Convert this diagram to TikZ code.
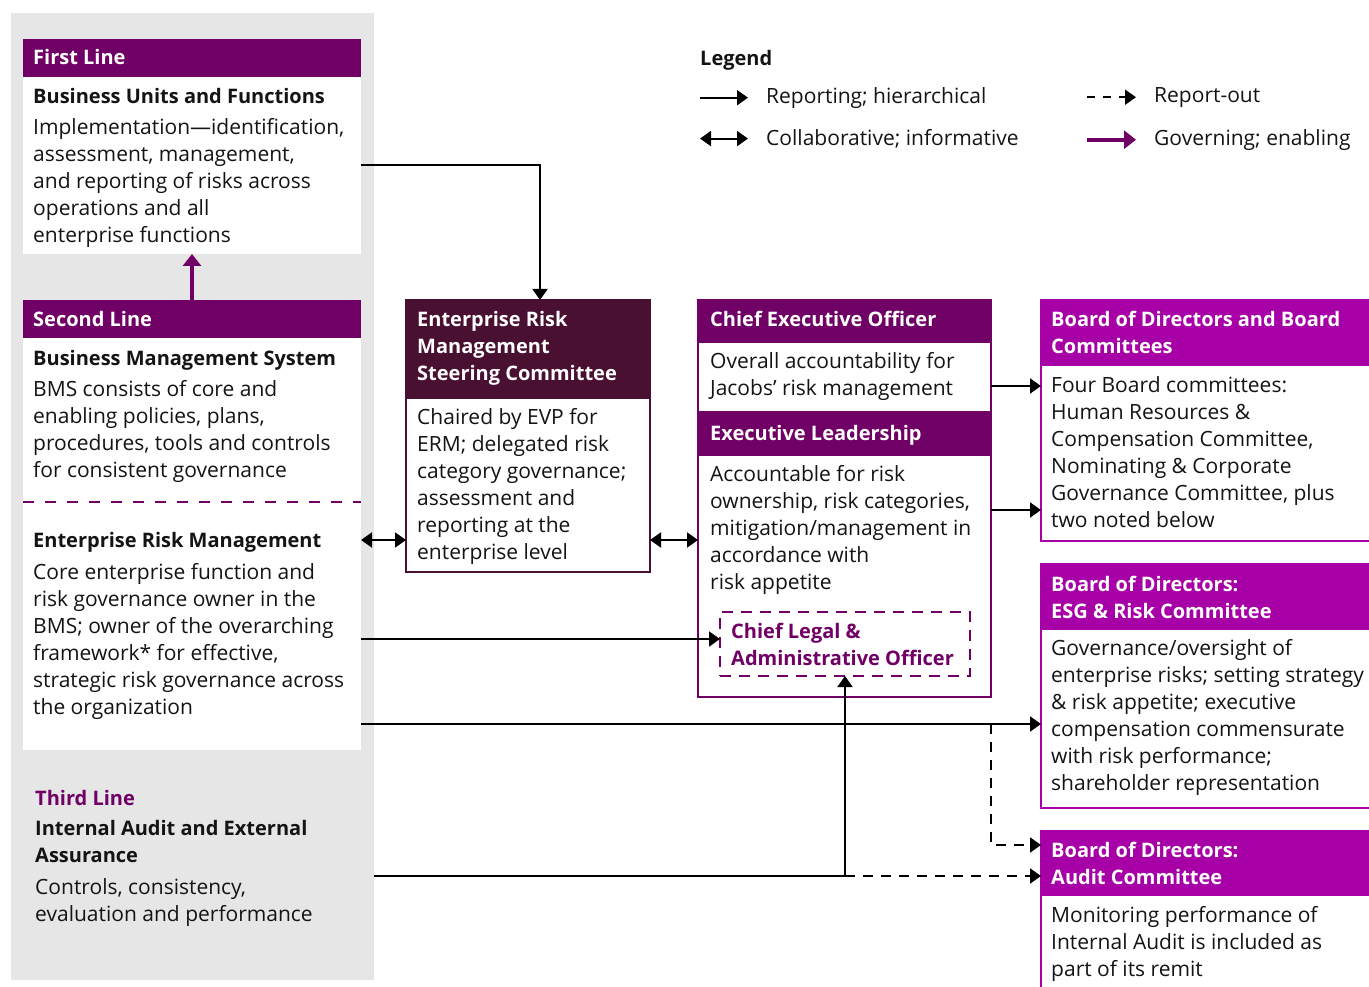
\documentclass[tikz,border=0pt]{standalone}
\usepackage{fontspec}
\setmainfont{Open Sans}
\usetikzlibrary{arrows.meta,positioning,calc}

\definecolor{linepurple}{RGB}{112,0,102}
\definecolor{boardpink}{RGB}{166,0,166}
\definecolor{steermaroon}{RGB}{74,16,50}
\definecolor{panelgray}{RGB}{230,230,230}
\definecolor{inkblack}{RGB}{20,20,20}

\newcommand{\bodysize}{\fontsize{21}{27}\selectfont}
\newcommand{\headsize}{\fontsize{20}{27}\selectfont\bfseries}
\newcommand{\ttl}[1]{{\headsize #1}}

\tikzset{
  blk/.style={anchor=north west, inner sep=0pt, outer sep=0pt},
  headbox/.style={blk, fill=linepurple},
  bodybox/.style={blk, fill=white},
  txt/.style={anchor=north west, inner sep=0pt, yshift=-3pt, align=left, font=\bodysize, text=inkblack},
  headtxt/.style={txt, text=white, font=\headsize},
  report/.style={line width=2pt, -{Triangle[length=11pt,width=15pt]}},
  collab/.style={line width=2pt, {Triangle[length=11pt,width=15pt]}-{Triangle[length=11pt,width=15pt]}},
  reportout/.style={report, dash pattern=on 10pt off 8pt},
  govern/.style={line width=4pt, linepurple, -{Triangle[length=12pt,width=18pt]}},
}

\begin{document}
\begin{tikzpicture}[x=1pt,y=-1pt]
\clip (0,0) rectangle (1369,987);

% the three lines, on the grey panel
\node[blk, fill=panelgray, minimum width=363, minimum height=967] (panel) at (11,13) {};
\node[headbox, minimum width=338, minimum height=38] (fl-head) at (23,39) {};
\node[bodybox, minimum width=338, minimum height=177] (fl-body) at (23,77) {};
\node[headbox, minimum width=338, minimum height=38] (sl-head) at (23,300) {};
\node[bodybox, minimum width=338, minimum height=164] (bms) at (23,338) {};
\node[bodybox, minimum width=338, minimum height=248] (erm) at (23,502) {};
\draw[linepurple, line width=2pt, dash pattern=on 11pt off 11pt] (bms.south west) -- (bms.south east);

\node[headtxt] (fl-title) at ([shift={(10,7)}]fl-head.north west) {First Line};
\node[txt] (fl-text) at ([shift={(10,8)}]fl-body.north west)
  {\ttl{Business Units and Functions}\\[4pt]
   Implementation—identification,\\ assessment, management,\\
   and reporting of risks across\\ operations and all\\ enterprise functions};
\node[headtxt] (sl-title) at ([shift={(10,8)}]sl-head.north west) {Second Line};
\node[txt] (bms-text) at ([shift={(10,9)}]bms.north west)
  {\ttl{Business Management System}\\[4pt]
   BMS consists of core and\\ enabling policies, plans,\\
   procedures, tools and controls\\ for consistent governance};
\node[txt] (erm-text) at ([shift={(10,27)}]erm.north west)
  {\ttl{Enterprise Risk Management}\\[5pt]
   Core enterprise function and\\ risk governance owner in the\\
   BMS; owner of the overarching\\ framework* for effective,\\
   strategic risk governance across\\ the organization};
\node[txt] (tl-text) at ([shift={(12,37)}]erm.south west)
  {\ttl{\color{linepurple}Third Line}\\[3pt]
   \ttl{Internal Audit and External}\\ \ttl{Assurance}\\[5pt]
   Controls, consistency,\\ evaluation and performance};

% steering committee
\node[blk, fill=steermaroon, draw=steermaroon, line width=1.5pt,
      minimum width=244, minimum height=98] (ersc-head) at (406,300) {};
\node[bodybox, draw=steermaroon, line width=1.5pt,
      minimum width=244, minimum height=174] (ersc-body) at (406,398) {};
\node[headtxt] (ersc-title) at ([shift={(11,8)}]ersc-head.north west)
  {Enterprise Risk\\ Management\\ Steering Committee};
\node[txt] (ersc-text) at ([shift={(11,7)}]ersc-body.north west)
  {Chaired by EVP for\\ ERM; delegated risk\\ category governance;\\
   assessment and\\ reporting at the\\ enterprise level};

% CEO and executive leadership
\node[headbox, draw=linepurple, line width=2pt, minimum width=293, minimum height=42] (ceo-head) at (698,300) {};
\node[bodybox, draw=linepurple, line width=2pt, minimum width=293, minimum height=70] (ceo-body) at (698,342) {};
\node[headbox, draw=linepurple, line width=2pt, minimum width=293, minimum height=43] (exec-head) at (698,412) {};
\node[bodybox, draw=linepurple, line width=2pt, minimum width=293, minimum height=242] (exec-body) at (698,455) {};
\node[blk, draw=linepurple, line width=2pt, dash pattern=on 11pt off 8pt,
      minimum width=250, minimum height=64] (clao) at (720,612) {};
\node[headtxt] (ceo-title) at ([shift={(12,8)}]ceo-head.north west) {Chief Executive Officer};
\node[txt] (ceo-text) at ([shift={(12,7)}]ceo-body.north west)
  {Overall accountability for\\ Jacobs’ risk management};
\node[headtxt] (exec-title) at ([shift={(12,10)}]exec-head.north west) {Executive Leadership};
\node[txt] (exec-text) at ([shift={(12,7)}]exec-body.north west)
  {Accountable for risk\\ ownership, risk categories,\\ mitigation/management in\\
   accordance with\\ risk appetite};
\node[headtxt, text=linepurple] (clao-text) at ([shift={(11,8)}]clao.north west)
  {Chief Legal \&\\ Administrative Officer};

% board of directors
\tikzset{boardhead/.style={blk, fill=boardpink, draw=boardpink, line width=2pt, minimum width=331},
         boardbody/.style={bodybox, draw=boardpink, line width=2pt, minimum width=331}}
\node[boardhead, minimum height=65] (bod-head) at (1041,300) {};
\node[boardbody, minimum height=176] (bod-body) at (1041,365) {};
\node[boardhead, minimum height=65] (esg-head) at (1041,564) {};
\node[boardbody, minimum height=179] (esg-body) at (1041,629) {};
\node[boardhead, minimum height=64] (audit-head) at (1041,831) {};
\node[boardbody, minimum height=100] (audit-body) at (1041,895) {};
\node[headtxt] (bod-title) at ([shift={(10,8)}]bod-head.north west)
  {Board of Directors and Board\\ Committees};
\node[txt] (bod-text) at ([shift={(10,8)}]bod-body.north west)
  {Four Board committees:\\ Human Resources \&\\ Compensation Committee,\\
   Nominating \& Corporate\\ Governance Committee, plus\\ two noted below};
\node[headtxt] (esg-title) at ([shift={(10,9)}]esg-head.north west)
  {Board of Directors:\\ ESG \& Risk Committee};
\node[txt] (esg-text) at ([shift={(10,7)}]esg-body.north west)
  {Governance/oversight of\\ enterprise risks; setting strategy\\ \& risk appetite; executive\\
   compensation commensurate\\ with risk performance;\\ shareholder representation};
\node[headtxt] (audit-title) at ([shift={(10,8)}]audit-head.north west)
  {Board of Directors:\\ Audit Committee};
\node[txt] (audit-text) at ([shift={(10,8)}]audit-body.north west)
  {Monitoring performance of\\ Internal Audit is included as\\ part of its remit};

% legend
\node[txt, font=\headsize] (legend) at (700,47) {Legend};
\node[txt] (lg-rep) at (766,84) {Reporting; hierarchical};
\node[txt] (lg-col) at (766,126) {Collaborative; informative};
\node[txt] (lg-out) at (1154,84) {Report-out};
\node[txt] (lg-gov) at (1154,126) {Governing; enabling};
\draw[report] ([xshift=-66]lg-rep.west) -- ([xshift=-18]lg-rep.west);
\draw[collab] ([xshift=-66]lg-col.west) -- ([xshift=-18]lg-col.west);
\draw[reportout, dash pattern=on 8pt off 8pt] ([xshift=-67]lg-out.west) -- ([xshift=-18]lg-out.west);
\draw[govern] ([xshift=-67]lg-gov.west) -- ([xshift=-18]lg-gov.west);

% connectors
\draw[govern] (sl-head.north) -- (fl-body.south);
\draw[report] (fl-body.east) -| ([xshift=12]ersc-head.north);
\draw[collab] ([yshift=86]erm.east) -- ([yshift=86]erm.east -| ersc-body.west);
\draw[collab] ([yshift=-55]ersc-body.east) -- ([yshift=-55]ersc-body.east -| exec-body.west);
\draw[report] ([yshift=-13]erm.east) -- ([yshift=-13]erm.east -| clao.west);
\draw[report] ([yshift=-9]ceo-body.east) -- ([yshift=-9]ceo-body.east -| bod-body.west);
\draw[report] ([yshift=66]exec-body.east) -- ([yshift=66]exec-body.east -| bod-body.west);
\coordinate (erm-out) at ([yshift=-98]erm.east);
\draw[report] (erm-out) -- (erm-out -| esg-body.west);
\draw[reportout] (erm-out -| exec-body.east) |- ([yshift=18]audit-head.west);
\coordinate (ia-out) at ([yshift=-379.5]panel.east);
\draw[report] (ia-out) -| (clao.south);
\draw[reportout] (clao.south |- ia-out) -- (ia-out -| audit-head.west);
\end{tikzpicture}
\end{document}
